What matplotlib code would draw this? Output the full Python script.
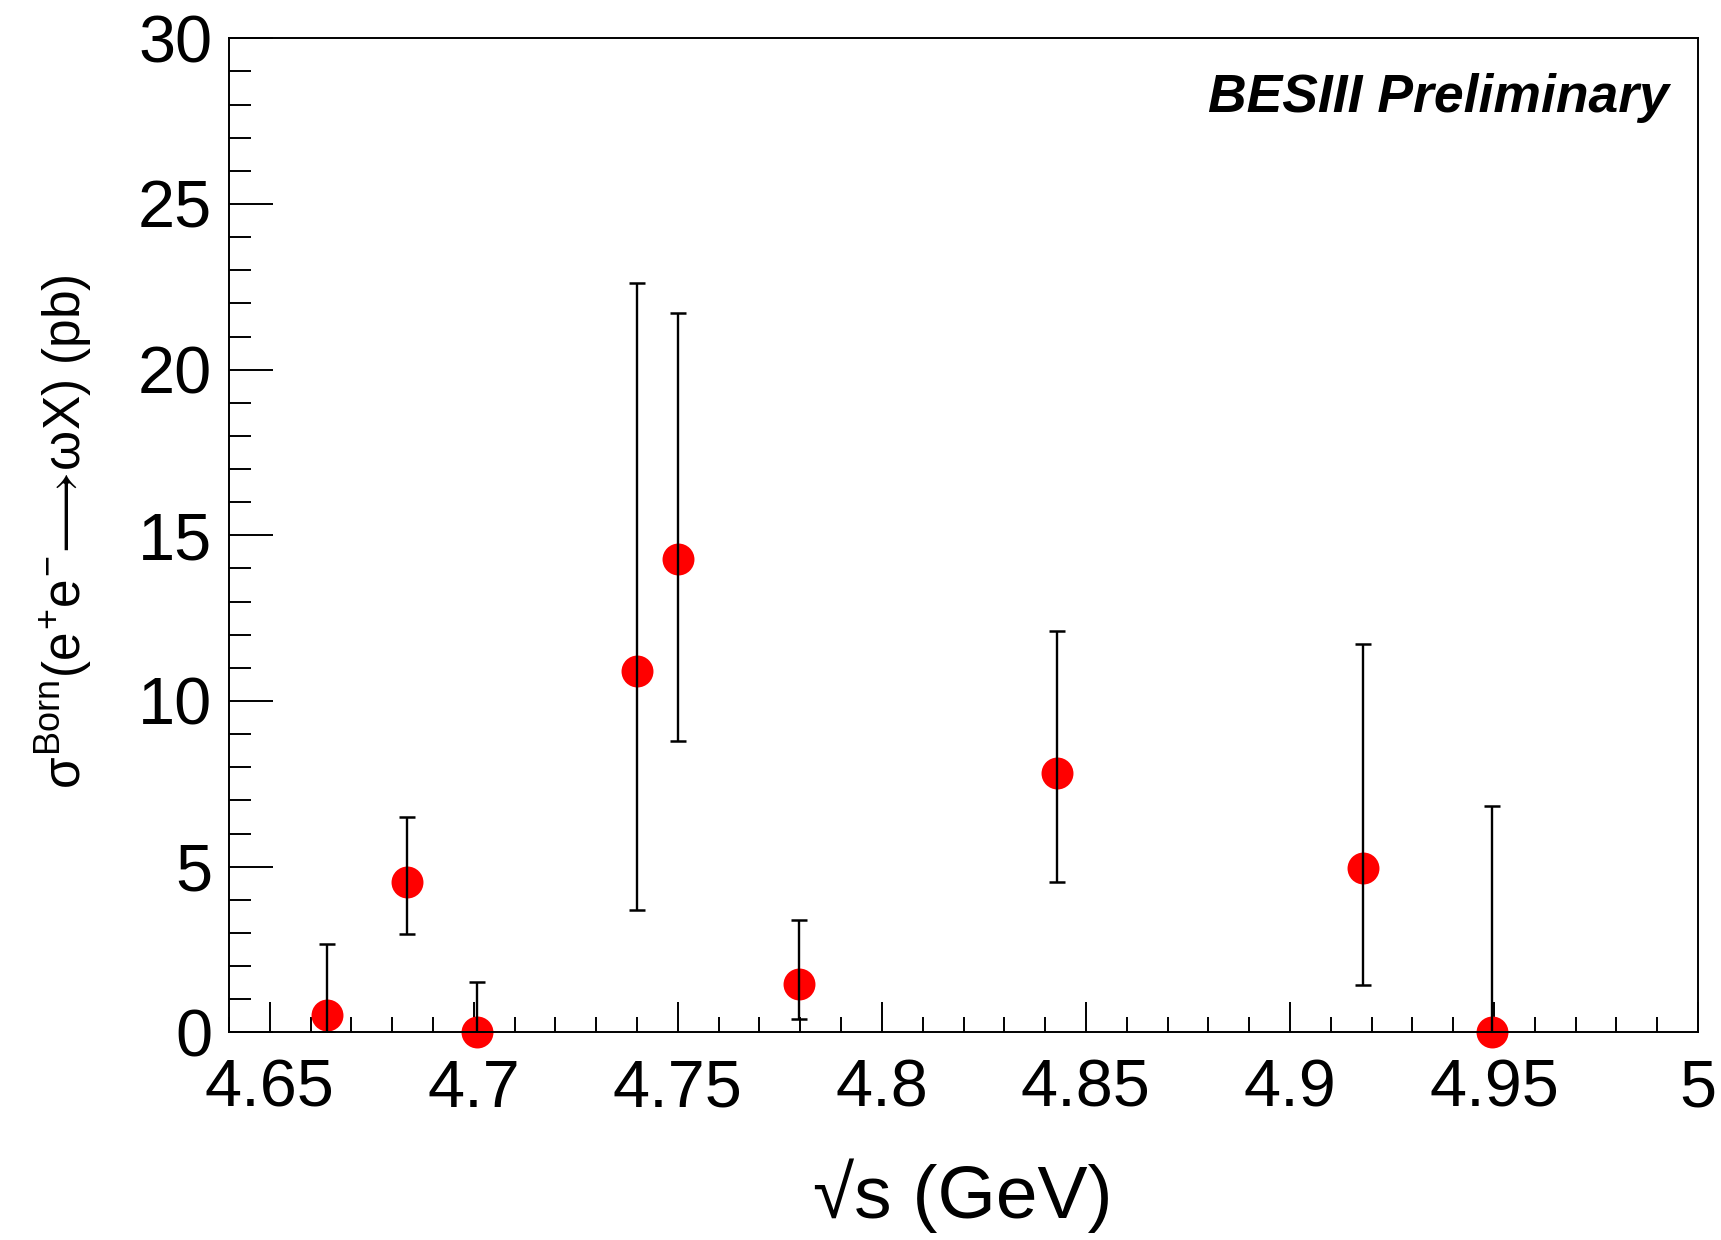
import numpy as np
import matplotlib
matplotlib.use("Agg")
import matplotlib.pyplot as plt
from matplotlib.ticker import MultipleLocator

plt.rcParams['font.family'] = ['Liberation Sans', 'DejaVu Sans']
plt.rcParams['mathtext.fontset'] = 'custom'
plt.rcParams['mathtext.rm'] = 'Liberation Sans'
plt.rcParams['mathtext.it'] = 'Liberation Sans'
plt.rcParams['mathtext.sf'] = 'Liberation Sans'
plt.rcParams['mathtext.bf'] = 'Liberation Sans:bold'

# energy points (GeV) and Born cross section (pb)
energy = [4.664, 4.6835, 4.7008, 4.740, 4.750, 4.7797, 4.843, 4.918, 4.9495]
sigma = [0.52, 4.55, 0.0, 10.9, 14.28, 1.45, 7.82, 4.95, 0.0]
err_up = [2.15, 1.94, 1.53, 11.7, 7.42, 1.94, 4.29, 6.76, 6.84]
err_down = [0.52, 1.57, 0.0, 7.22, 5.48, 1.06, 3.27, 3.51, 0.0]

fig = plt.figure(figsize=(17.21, 12.40), dpi=100)
ax = fig.add_axes([229 / 1721, 1 - 1032.3 / 1240, 1469 / 1721, 994 / 1240])

ax.plot(energy, sigma, 'o', color='#ff0000', markersize=23,
        markeredgewidth=0, zorder=2, clip_on=False)
ax.errorbar(energy, sigma, yerr=[err_down, err_up], fmt='none',
            ecolor='black', elinewidth=1.7, capsize=5.5, capthick=1.8, zorder=3)

ax.set_xlim(4.64, 5.0)
ax.set_ylim(0, 30)

ax.xaxis.set_major_locator(MultipleLocator(0.05))
ax.xaxis.set_minor_locator(MultipleLocator(0.01))
ax.yaxis.set_major_locator(MultipleLocator(5))
ax.yaxis.set_minor_locator(MultipleLocator(1))
ax.xaxis.set_major_formatter(plt.FuncFormatter(lambda v, p: f"{v:g}"))
ax.yaxis.set_major_formatter(plt.FuncFormatter(lambda v, p: f"{v:g}"))

ax.tick_params(axis='x', which='major', direction='in', length=21.5, width=1.4,
               labelsize=48, pad=19, top=False)
ax.tick_params(axis='x', which='minor', direction='in', length=10.5, width=1.4, top=False)
ax.tick_params(axis='y', which='major', direction='in', length=31.5, width=1.4,
               labelsize=48, pad=12, right=False)
ax.tick_params(axis='y', which='minor', direction='in', length=16, width=1.4, right=False)

for sp in ax.spines.values():
    sp.set_linewidth(1.4)

fig.text(963 / 1721, 1 - 1196 / 1240, "\u221as (GeV)", fontsize=54,
         ha='center', va='center')
fig.text(64 / 1721, 1 - 532 / 1240,
         r'$\sigma^{\rm Born}(e^{+}e^{-}\!\longrightarrow\!\omega X)$ (pb)',
         fontsize=37, rotation=90, ha='center', va='center')

ax.text(0.980, 0.926, "BESIII Preliminary", transform=ax.transAxes,
        fontsize=38.5, fontweight='bold', fontstyle='italic',
        ha='right', va='baseline')

fig.savefig("out.png", dpi=100)
